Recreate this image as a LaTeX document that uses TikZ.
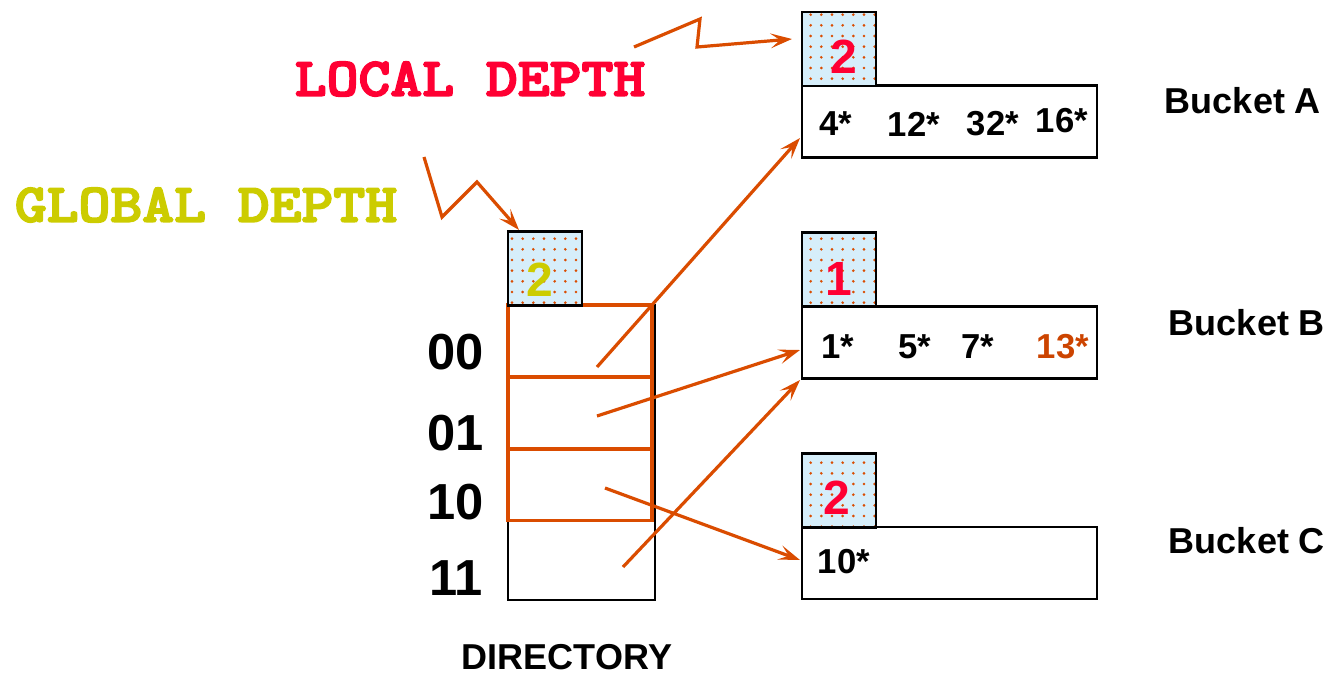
\documentclass[tikz,border=0pt]{standalone}
\usepackage{fontspec}
\setmainfont{Liberation Sans}
\newfontfamily\slabmono[FakeBold=3]{lmmonolt10-bold.otf}
\usetikzlibrary{arrows.meta}
\usetikzlibrary{patterns.meta}
\usepackage{xcolor}

\definecolor{linkorange}{RGB}{218,76,0}
\definecolor{keyorange}{RGB}{204,68,0}
\definecolor{depthred}{RGB}{255,0,51}
\definecolor{globalyellow}{RGB}{204,204,0}
\definecolor{paleblue}{RGB}{214,238,250}

\begin{document}
\begin{tikzpicture}[x=0.75pt,y=0.75pt,yscale=-1,xscale=1,
  depthbox/.style={draw=black,line width=1.7pt,preaction={fill=paleblue},
    pattern={Dots[distance=8pt,radius=1.1pt]},pattern color=linkorange,
    minimum width=55.5pt,minimum height=55.5pt,inner sep=0pt},
  bucket/.style={draw=black,line width=1.7pt,minimum width=221.25pt,minimum height=54pt,inner sep=0pt},
  cell/.style={draw=linkorange,line width=2.6pt,minimum width=108pt,minimum height=54pt,inner sep=0pt},
  depthnum/.style={inner sep=0pt,font=\fontsize{36}{36}\bfseries\selectfont,text=depthred},
  entry/.style={inner sep=0pt,font=\fontsize{26}{26}\bfseries\selectfont},
  bitlbl/.style={inner sep=0pt,font=\fontsize{38}{38}\bfseries\selectfont},
  sidelbl/.style={inner sep=0pt,font=\fontsize{27}{27}\bfseries\selectfont},
  depthlbl/.style={inner sep=0pt,font=\fontsize{41}{41}\slabmono\selectfont},
  link/.style={draw=linkorange,line width=2.4pt,-{Stealth[length=16pt,width=11pt,inset=7pt]}}]
\useasboundingbox (0,0) rectangle (1343,676);

%Directory
\draw [line width=1.7pt] (508,305) rectangle (655,600);
\draw (580,341) node (d00) [cell] {};
\draw (580,413) node (d01) [cell] {};
\draw (580,484.5) node (d10) [cell] {};
\draw (545,268.5) node (ddir) [depthbox] {};
\draw (540,280) node (ndir) [depthnum,text=globalyellow] {2};

%Buckets
\draw (949.5,121.5) node (bktA) [bucket] {};
\draw (949.5,342.5) node (bktB) [bucket] {};
\draw (949.5,563) node (bktC) [bucket] {};
\draw (839,49) node (dA) [depthbox] {};
\draw (839,269.5) node (dB) [depthbox] {};
\draw (839,490.5) node (dC) [depthbox] {};
\draw (844,57) node (nA) [depthnum] {2};
\draw (839,279) node (nB) [depthnum] {1};
\draw (837,498) node (nC) [depthnum] {2};

% Text Node
\draw (836,124) node (eA1) [entry] {4*};
\draw (914,124) node (eA2) [entry] {12*};
\draw (993,124) node (eA3) [entry] {32*};
\draw (1062,121) node (eA4) [entry] {16*};
\draw (838,347) node (eB1) [entry] {1*};
\draw (915,347) node (eB2) [entry] {5*};
\draw (978,347) node (eB3) [entry] {7*};
\draw (1063,347) node (eB4) [entry,text=keyorange] {13*};
\draw (844,562) node (eC1) [entry] {10*};

% Text Node
\draw (1243,101) node (lblA) [sidelbl] {Bucket A};
\draw (1247,323) node (lblB) [sidelbl] {Bucket B};
\draw (1247,541) node (lblC) [sidelbl] {Bucket C};
\draw (567,657) node (lbldir) [sidelbl] {DIRECTORY};
\draw (456,352) node (b00) [bitlbl] {00};
\draw (456,433) node (b01) [bitlbl] {01};
\draw (456,502) node (b10) [bitlbl] {10};
\draw (456,578) node (b11) [bitlbl] {11};
\draw (470,79) node (lbllocal) [depthlbl,text=depthred] {\scalebox{1.11}[1]{LOCAL DEPTH}};
\draw (206,205) node (lblglobal) [depthlbl,text=globalyellow] {\scalebox{1.11}[1]{GLOBAL DEPTH}};

%Pointers
\coordinate (p00) at (597,367);
\coordinate (p01) at (597,416);
\coordinate (p10) at (605,488);
\coordinate (p11) at (623,567);
\coordinate (inA) at (800,138);
\coordinate (inB) at (800,350);
\coordinate (inBlow) at (800,380);
\coordinate (inC) at (800,560);
\draw [link] (p00) -- (inA);
\draw [link] (p01) -- (inB);
\draw [link] (p10) -- (inC);
\draw [link] (p11) -- (inBlow);

%Zigzag arrows
\coordinate (zl0) at (634,47);
\coordinate (zl1) at (700,19);
\coordinate (zl2) at (697,47);
\coordinate (zl3) at (792,39);
\draw [link] (zl0) -- (zl1) -- (zl2) -- (zl3);
\coordinate (zg0) at (424,157);
\coordinate (zg1) at (442,217);
\coordinate (zg2) at (477,182);
\coordinate (zg3) at (519,230);
\draw [link] (zg0) -- (zg1) -- (zg2) -- (zg3);

\end{tikzpicture}
\end{document}
